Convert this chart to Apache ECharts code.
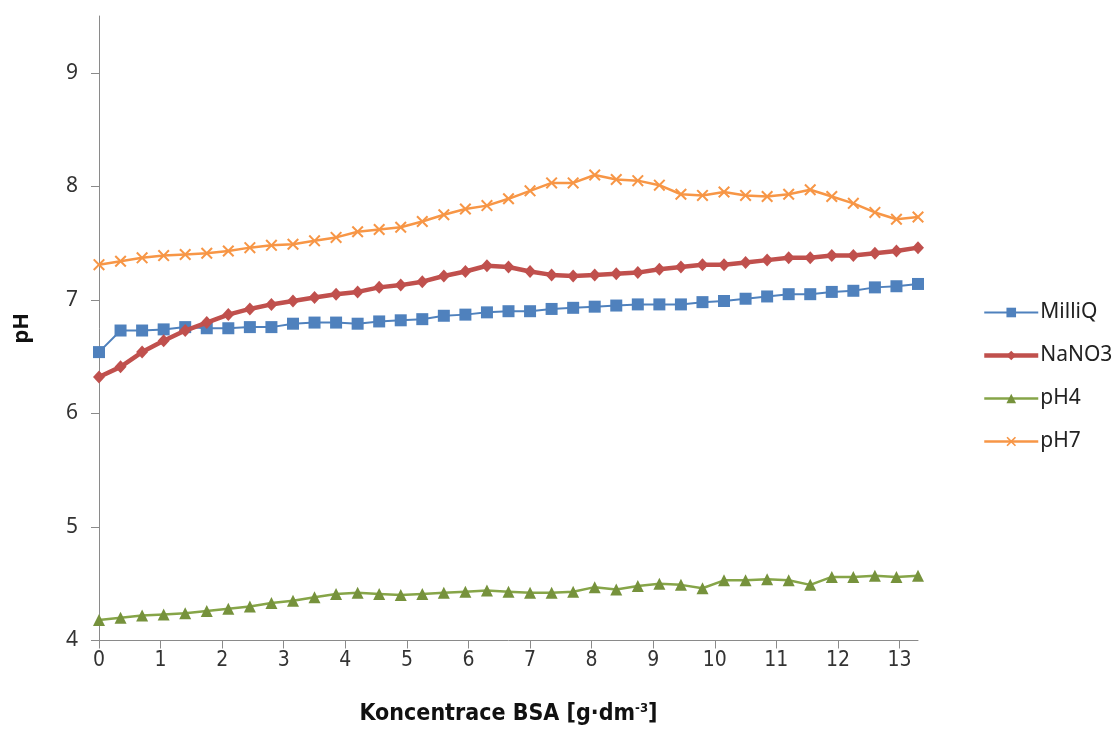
<!DOCTYPE html>
<html>
<head>
<meta charset="utf-8">
<script src="https://cdn.jsdelivr.net/npm/echarts@6/dist/echarts.min.js"></script>
<style>html,body{margin:0;padding:0;background:#fff}#c{width:1113px;height:731px}</style>
</head>
<body>
<div id="c"></div>
<script>
const conc = [0, 0.35, 0.7, 1.05, 1.4, 1.75, 2.1, 2.45, 2.8, 3.15, 3.5, 3.85, 4.2, 4.55, 4.9, 5.25, 5.6, 5.95, 6.3, 6.65, 7.0, 7.35, 7.7, 8.05, 8.4, 8.75, 9.1, 9.45, 9.8, 10.15, 10.5, 10.85, 11.2, 11.55, 11.9, 12.25, 12.6, 12.95, 13.3];
const milliQ = [6.54, 6.73, 6.73, 6.74, 6.76, 6.75, 6.75, 6.76, 6.76, 6.79, 6.80, 6.80, 6.79, 6.81, 6.82, 6.83, 6.86, 6.87, 6.89, 6.90, 6.90, 6.92, 6.93, 6.94, 6.95, 6.96, 6.96, 6.96, 6.98, 6.99, 7.01, 7.03, 7.05, 7.05, 7.07, 7.08, 7.11, 7.12, 7.14];
const nano3 = [6.32, 6.41, 6.54, 6.64, 6.73, 6.80, 6.87, 6.92, 6.96, 6.99, 7.02, 7.05, 7.07, 7.11, 7.13, 7.16, 7.21, 7.25, 7.30, 7.29, 7.25, 7.22, 7.21, 7.22, 7.23, 7.24, 7.27, 7.29, 7.31, 7.31, 7.33, 7.35, 7.37, 7.37, 7.39, 7.39, 7.41, 7.43, 7.46];
const ph4 = [4.18, 4.20, 4.22, 4.23, 4.24, 4.26, 4.28, 4.30, 4.33, 4.35, 4.38, 4.41, 4.42, 4.41, 4.40, 4.41, 4.42, 4.43, 4.44, 4.43, 4.42, 4.42, 4.43, 4.47, 4.45, 4.48, 4.50, 4.49, 4.46, 4.53, 4.53, 4.54, 4.53, 4.49, 4.56, 4.56, 4.57, 4.56, 4.57];
const ph7 = [7.31, 7.34, 7.37, 7.39, 7.40, 7.41, 7.43, 7.46, 7.48, 7.49, 7.52, 7.55, 7.60, 7.62, 7.64, 7.69, 7.75, 7.80, 7.83, 7.89, 7.96, 8.03, 8.03, 8.10, 8.06, 8.05, 8.01, 7.93, 7.92, 7.95, 7.92, 7.91, 7.93, 7.97, 7.91, 7.85, 7.77, 7.71, 7.73];
const seriesNames = ['MilliQ', 'NaNO3', 'pH4', 'pH7'];

const pair = (ys) => conc.map((x, i) => [x, ys[i]]);
const xSym = 'path://M0,1.2 L1.2,0 L5,3.8 L8.8,0 L10,1.2 L6.2,5 L10,8.8 L8.8,10 L5,6.2 L1.2,10 L0,8.8 L3.8,5 Z';
const font = '"Noto Sans", "Open Sans", sans-serif';
const narrow = '"Liberation Sans Narrow", "DejaVu Sans Condensed", "Noto Sans", sans-serif';
const axisColor = '#8a8a8a';

const chart = echarts.init(document.getElementById('c'), null, {renderer: 'canvas'});
chart.setOption({
  animation: false,
  backgroundColor: '#fff',
  grid: {left: 99, top: 16, width: 819, bottom: 84, containLabel: false},
  legend: {
    orient: 'vertical', left: 977, top: 297,
    itemWidth: 54, itemHeight: 12, itemGap: 22,
    textStyle: {fontFamily: font, fontSize: 21, color: '#222', padding: [0, 0, 0, -3]},
    data: [
      {name: seriesNames[0], lineStyle: {width: 2}},
      {name: seriesNames[1], lineStyle: {width: 4.5}},
      {name: seriesNames[2], lineStyle: {width: 2.5}},
      {name: seriesNames[3], lineStyle: {width: 2.5}}
    ]
  },
  xAxis: {
    type: 'value', min: 0, max: 13.3, interval: 1,
    name: '{b|Koncentrace BSA [g·dm}{s|-3}{b|]}',
    nameLocation: 'middle', nameGap: 62,
    nameTextStyle: {
      rich: {
        b: {fontFamily: narrow, fontSize: 23, fontWeight: 'bold', color: '#111'},
        s: {fontFamily: narrow, fontSize: 13, fontWeight: 'bold', color: '#111', padding: [0, 0, 11, 0]}
      }
    },
    splitLine: {show: false},
    axisLine: {show: true, lineStyle: {color: axisColor, width: 1}},
    axisTick: {show: true, length: 8, lineStyle: {color: axisColor, width: 1}},
    axisLabel: {fontFamily: narrow, fontSize: 21, color: '#333', margin: 10, showMaxLabel: false}
  },
  yAxis: {
    type: 'value', min: 4, max: 9.5, interval: 1,
    name: 'pH', nameLocation: 'middle', nameGap: 66,
    nameTextStyle: {fontFamily: font, fontSize: 22, fontWeight: 'bold', color: '#111'},
    splitLine: {show: false},
    axisLine: {show: true, lineStyle: {color: axisColor, width: 1}},
    axisTick: {show: true, length: 8, lineStyle: {color: axisColor, width: 1}},
    axisLabel: {fontFamily: font, fontSize: 21, color: '#333', margin: 21, showMaxLabel: false}
  },
  series: [
    {name: seriesNames[0], type: 'line', data: pair(milliQ), symbol: 'rect', symbolSize: 12,
     itemStyle: {color: '#4F81BD'}, lineStyle: {width: 2, color: '#4F81BD'}, z: 3},
    {name: seriesNames[1], type: 'line', data: pair(nano3), symbol: 'diamond', symbolSize: [12, 13],
     itemStyle: {color: '#C0504D'}, lineStyle: {width: 4.5, color: '#C0504D'}, z: 4},
    {name: seriesNames[2], type: 'line', data: pair(ph4), symbol: 'triangle', symbolSize: 12,
     itemStyle: {color: '#76923C'}, lineStyle: {width: 2.5, color: '#86A548'}, z: 2},
    {name: seriesNames[3], type: 'line', data: pair(ph7), symbol: xSym, symbolSize: 12,
     itemStyle: {color: '#F79646'}, lineStyle: {width: 2.5, color: '#F79646'}, z: 2}
  ]
});
</script>
</body>
</html>
